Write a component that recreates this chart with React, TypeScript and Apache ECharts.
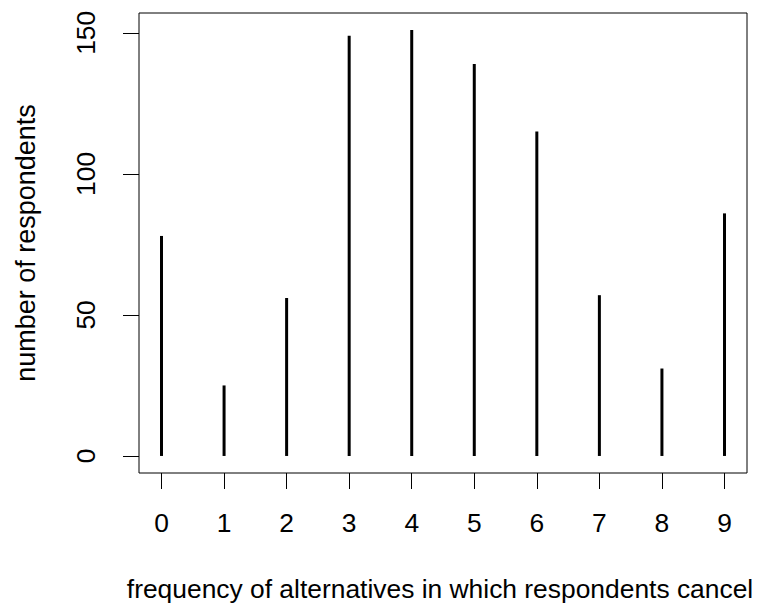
import React, { useEffect, useRef } from "react";
import * as echarts from "echarts";

const categories = [0, 1, 2, 3, 4, 5, 6, 7, 8, 9];
const respondents = [78, 25, 56, 149, 151, 139, 115, 57, 31, 86];
const yTicks = [0, 50, 100, 150];

export default function App() {
  const ref = useRef<HTMLDivElement>(null);
  useEffect(() => {
    document.body.style.margin = "0";
    const chart = echarts.init(ref.current!, null, { renderer: "svg" });
    const font = "'Liberation Sans', Arial, sans-serif";
    chart.setOption({
      animation: false,
      backgroundColor: "#ffffff",
      grid: {
        left: 139,
        right: 13,
        top: 13,
        bottom: 131,
        containLabel: false,
        outerBoundsMode: "none",
        show: true,
        borderColor: "#000",
        borderWidth: 1,
        backgroundColor: "transparent",
      },
      xAxis: {
        type: "value",
        min: -0.36,
        max: 9.36,
        name: "frequency of alternatives in which respondents cancel",
        nameLocation: "middle",
        nameGap: 104,
        nameTextStyle: {
          fontFamily: font,
          fontSize: 26.4,
          lineHeight: 24,
          color: "#000",
          padding: [0, 6, 0, 0],
        },
        axisLine: { show: false, onZero: false },
        splitLine: { show: false },
        axisTick: {
          show: true,
          length: 16,
          lineStyle: { color: "#000", width: 1 },
          customValues: categories,
        },
        axisLabel: {
          margin: 37,
          fontFamily: font,
          fontSize: 26.4,
          color: "#000",
          customValues: categories,
          formatter: (v: number) => String(v),
        },
      },
      yAxis: {
        type: "value",
        min: -6.04,
        max: 157.04,
        name: "number of respondents",
        nameLocation: "middle",
        nameGap: 100,
        nameTextStyle: { fontFamily: font, fontSize: 27, color: "#000" },
        axisLine: { show: false, onZero: false },
        splitLine: { show: false },
        axisTick: {
          show: true,
          length: 16,
          lineStyle: { color: "#000", width: 1 },
          customValues: yTicks,
        },
        axisLabel: {
          margin: 40,
          rotate: 90,
          fontFamily: font,
          fontSize: 26.4,
          color: "#000",
          customValues: yTicks,
          formatter: (v: number) => String(v),
        },
      },
      series: [
        {
          type: "bar",
          barWidth: 3,
          itemStyle: { color: "#000" },
          data: categories.map((c, i) => [c, respondents[i]]),
        },
      ],
    });
    return () => chart.dispose();
  }, []);
  return (
    <div
      ref={ref}
      style={{ position: "absolute", left: 0, top: 0, width: 760, height: 604 }}
    />
  );
}
